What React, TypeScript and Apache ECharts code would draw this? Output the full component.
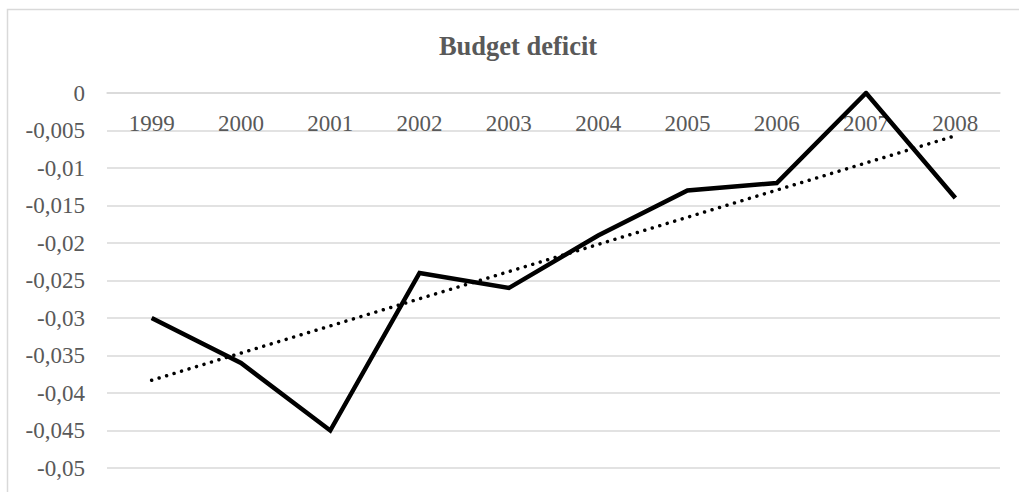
import React, { useEffect, useRef } from "react";
import * as echarts from "echarts";

const years = ["1999", "2000", "2001", "2002", "2003", "2004", "2005", "2006", "2007", "2008"];
const deficit = [-0.03, -0.036, -0.045, -0.024, -0.026, -0.019, -0.013, -0.012, 0, -0.014];
// Linear trendline endpoints (first and last year)
const trendYears = ["1999", "2008"];
const trendValues = [-0.0383, -0.0057];
const titleText = "Budget deficit";

export default function App() {
  const ref = useRef<HTMLDivElement>(null);
  useEffect(() => {
    if (!ref.current) return;
    const chart = echarts.init(ref.current, undefined, { renderer: "svg" });
    const font = "'Liberation Serif', 'Times New Roman', serif";
    chart.setOption({
      animation: false,
      backgroundColor: "#ffffff",
      graphic: [
        {
          type: "rect",
          shape: { x: 7.5, y: 9.5, width: 1100, height: 600 },
          style: { fill: "none", stroke: "#d9d9d9", lineWidth: 1.5 },
          silent: true,
        },
        {
          type: "text",
          x: 518,
          y: 46,
          style: {
            text: titleText,
            font: `bold 26.5px ${font}`,
            fill: "#595959",
            textAlign: "center",
            textVerticalAlign: "middle",
          },
        },
      ],
      grid: { left: 107, right: 19, top: 93, bottom: 24, containLabel: false, outerBoundsMode: "none" },
      xAxis: {
        type: "category",
        data: years,
        position: "top",
        boundaryGap: true,
        axisLine: { onZero: false, lineStyle: { color: "#d9d9d9", width: 1.5 } },
        axisTick: { show: false },
        axisLabel: {
          inside: true,
          color: "#595959",
          fontFamily: font,
          fontSize: 23,
          margin: 19,
        },
        splitLine: { show: false },
      },
      yAxis: {
        type: "value",
        min: -0.05,
        max: 0,
        interval: 0.005,
        axisLine: { show: false },
        axisTick: { show: false },
        axisLabel: {
          color: "#595959",
          fontFamily: font,
          fontSize: 23,
          margin: 22,
          formatter: (v: number) => {
            const s = String(Math.round(v * 1000) / 1000);
            return s.replace(".", ",");
          },
        },
        splitLine: { lineStyle: { color: "#d9d9d9", width: 1.5 } },
      },
      series: [
        {
          type: "line",
          name: "trend",
          data: trendYears.map((y, i) => [years.indexOf(y), trendValues[i]]),
          showSymbol: false,
          lineStyle: { color: "#000000", width: 3.5, type: [0.01, 7.8], cap: "round" },
          z: 2,
        },
        {
          type: "line",
          name: "Budget deficit",
          data: deficit,
          showSymbol: false,
          lineStyle: { color: "#000000", width: 4.5, join: "miter", cap: "butt" },
          z: 3,
        },
      ],
    });
    return () => chart.dispose();
  }, []);
  return (
    <div
      ref={ref}
      style={{ position: "fixed", left: 0, top: 0, width: 1019, height: 492 }}
    />
  );
}
